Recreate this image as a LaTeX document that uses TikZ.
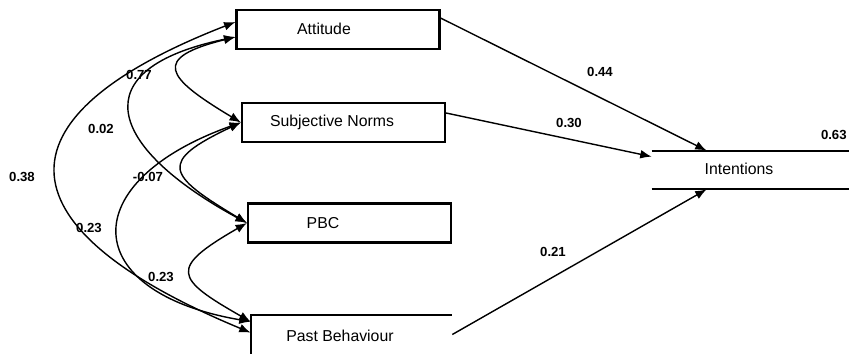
\documentclass[tikz,border=0pt]{standalone}
\usepackage{fontspec}
\setmainfont{Liberation Sans}
\usetikzlibrary{shapes,backgrounds}
\usetikzlibrary{arrows,arrows.meta}

\begin{document}
\begin{tikzpicture}[x=0.02cm,y=-0.02cm,
  box/.style={draw,line width=1.2pt,minimum width=4.06cm,minimum height=0.78cm,inner sep=0pt},
  openbox/.style={minimum width=4.02cm,minimum height=0.78cm,inner sep=0pt},
  vartext/.style={font=\fontsize{9}{10}\selectfont,inner sep=0pt},
  coef/.style={font=\fontsize{7.5}{8}\selectfont\bfseries,inner sep=0pt},
  effect/.style={line width=0.8pt,-{Latex[length=6.5pt,width=5pt]}},
  cov/.style={line width=0.8pt,{Latex[length=6.5pt,width=5pt]}-{Latex[length=6.5pt,width=5pt]}}]
\path[use as bounding box,clip] (0,0) rectangle (849,354);
\node[box] (att) at (338,29.5) {};
\node[box] (sn) at (343.5,122.5) {};
\node[box] (pbc) at (349.5,223) {};
\node[openbox] (pb) at (351.5,334.5) {};
\node[openbox,minimum width=4.96cm,minimum height=0.76cm] (intn) at (776,170) {};
\draw[line width=1.2pt] (pb.south west) -- (pb.north west) -- (pb.north east);
\draw[line width=1.2pt] (intn.north west) -- (intn.north east) (intn.south west) -- (intn.south east);
\node[vartext] (atttxt) at (324,29) {Attitude};
\node[vartext] (sntxt) at (332,122) {Subjective Norms};
\node[vartext] (pbctxt) at (323,223) {PBC};
\node[vartext] (pbtxt) at (340,336) {Past Behaviour};
\node[vartext] (intntxt) at (739,169) {Intentions};
\node[coef] (b1) at (600,72) {0.44};
\node[coef] (b2) at (569,123) {0.30};
\node[coef] (b3) at (553,252) {0.21};
\node[coef,anchor=east] (r2) at (847,135) {0.63};
\node[coef] (c1) at (22,177) {0.38};
\node[coef] (c2) at (139,75) {0.77};
\node[coef] (c3) at (101,129) {0.02};
\node[coef] (c4) at (148,177) {-0.07};
\node[coef] (c5) at (89,228) {0.23};
\node[coef] (c6) at (161,277) {0.23};
\draw[effect] ([yshift=0.23cm]att.east) -- ([xshift=1.1cm]intn.north west);
\draw[effect] ([yshift=0.19cm]sn.east) -- ([yshift=-0.12cm]intn.north west);
\draw[effect] (pb.east) -- ([xshift=1.1cm]intn.south west);
\draw[cov] ([yshift=0.15cm]att.west) .. controls (-14,119) and (3,230) .. ([yshift=-0.36cm]pb.north west);
\draw[cov] ([yshift=-0.15cm]att.west) .. controls (81,69) and (107,147) .. (pbc.west);
\draw[cov] ([yshift=-0.15cm]att.west) .. controls (151,58) and (165,77) .. (sn.west);
\draw[cov] (sn.west) .. controls (74,182) and (78,292) .. ([yshift=-0.14cm]pb.north west);
\draw[cov] (sn.west) .. controls (157,162) and (167,175) .. (pbc.west);
\draw[cov] (pbc.west) .. controls (169,268) and (174,278) .. ([yshift=-0.14cm]pb.north west);
\end{tikzpicture}
\end{document}
